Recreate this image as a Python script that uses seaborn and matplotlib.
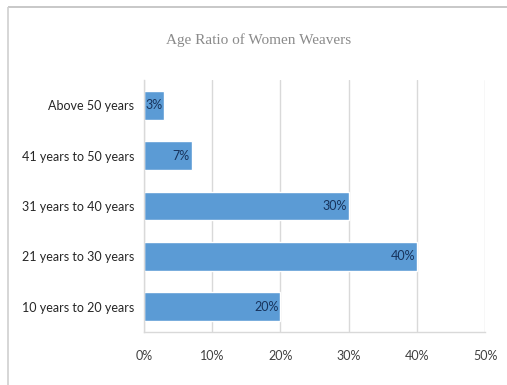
import matplotlib
matplotlib.use("Agg")
import matplotlib.pyplot as plt
import seaborn as sns
import pandas as pd
from matplotlib.lines import Line2D

age_groups = ["Above 50 years", "41 years to 50 years", "31 years to 40 years",
              "21 years to 30 years", "10 years to 20 years"]
shares = [3, 7, 30, 40, 20]
x_ticks = [0, 10, 20, 30, 40, 50]
x_tick_labels = ["0%", "10%", "20%", "30%", "40%", "50%"]
title = "Age Ratio of Women Weavers"

df = pd.DataFrame({"group": age_groups, "share": shares})

sns.set_theme(style="white")
plt.rcParams["font.family"] = ["Lato", "DejaVu Sans"]

fig = plt.figure(figsize=(5.07, 3.85), dpi=100)
ax = fig.add_axes([0.284, 0.1377, 0.673, 0.6545])

bar_color = "#5B9BD5"
sns.barplot(data=df, y="group", x="share", order=age_groups, orient="h",
            color=bar_color, saturation=1, width=0.57, ax=ax)

ax.set_xlim(0, 50)
ax.set_ylim(4.5, -0.5)
ax.set_xticks(x_ticks)
ax.set_xticklabels(x_tick_labels)
ax.set_xlabel("")
ax.set_ylabel("")
ax.xaxis.grid(True, color="#d9d9d9", linewidth=1)
ax.set_axisbelow(True)
ax.tick_params(axis="x", length=0, pad=13, labelsize=9, labelcolor="#404040")
ax.tick_params(axis="y", length=0, pad=7, labelsize=9, labelcolor="#262626")
for side in ["top", "right"]:
    ax.spines[side].set_visible(False)
for side in ["left", "bottom"]:
    ax.spines[side].set_color("#d9d9d9")
    ax.spines[side].set_linewidth(1)

# value labels just inside the end of each bar
for i, v in enumerate(shares):
    ax.annotate(f"{v}%", xy=(v, i), xytext=(-1.5, 0), textcoords="offset points",
                ha="right", va="center", fontsize=9, color="#17335c")

fig.text(0.509, 0.896, title, ha="center", va="center",
         family="Liberation Serif", fontsize=11, color="#8a8a8a")

# chart frame
fig.add_artist(Line2D([0.016, 1.0], [0.982, 0.982], transform=fig.transFigure,
                      color="#bfbfbf", linewidth=1.2, solid_capstyle="butt"))
fig.add_artist(Line2D([0.016, 0.016], [0.0, 0.982], transform=fig.transFigure,
                      color="#d0d0d0", linewidth=1.2, solid_capstyle="butt"))

fig.savefig("out.png", dpi=100, facecolor="white")
